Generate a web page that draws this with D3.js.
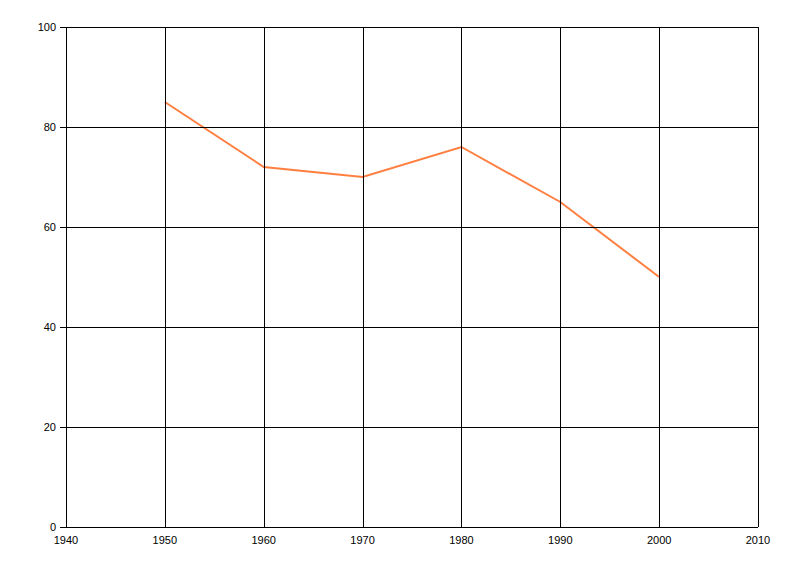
<!DOCTYPE html>
<html><head><meta charset="utf-8">
<script src="https://cdn.jsdelivr.net/npm/d3@7/dist/d3.min.js"></script>
<style>body{margin:0;background:#fff}text{font-family:"Liberation Sans",Arial,sans-serif}</style>
</head><body>
<svg id="c" width="800" height="576"></svg>
<script>
const years = [1950, 1960, 1970, 1980, 1990, 2000];
const values = [85, 72, 70, 76, 65, 50];
const xTicks = [1940, 1950, 1960, 1970, 1980, 1990, 2000, 2010];
const yTicks = [0, 20, 40, 60, 80, 100];

const svg = d3.select("#c");
const L = 66, R = 758, T = 27, B = 527;
const x = d3.scaleLinear().domain([1940, 2010]).range([L, R]);
const y = d3.scaleLinear().domain([0, 100]).range([B, T]);

const data = years.map((d, i) => ({ year: d, value: values[i] }));

svg.append("path").datum(data)
  .attr("fill", "none").attr("stroke", "#FF7F40").attr("stroke-width", 2)
  .attr("d", d3.line().x(d => x(d.year)).y(d => y(d.value)));

const g = svg.append("g").attr("shape-rendering", "crispEdges");
g.selectAll(".vx").data(xTicks).join("line")
  .attr("x1", d => Math.round(x(d)) + 0.5).attr("x2", d => Math.round(x(d)) + 0.5)
  .attr("y1", T).attr("y2", B).attr("stroke", "#000");
g.selectAll(".hy").data(yTicks).join("line")
  .attr("x1", L - 6).attr("x2", R)
  .attr("y1", d => Math.round(y(d)) + 0.5).attr("y2", d => Math.round(y(d)) + 0.5)
  .attr("stroke", "#000");

svg.selectAll(".xl").data(xTicks).join("text")
  .attr("x", d => x(d)).attr("y", B + 17)
  .attr("text-anchor", "middle").attr("font-size", 11).attr("fill", "#000")
  .text(d => d);
svg.selectAll(".yl").data(yTicks).join("text")
  .attr("x", L - 10).attr("y", d => y(d) + 4)
  .attr("text-anchor", "end").attr("font-size", 11).attr("fill", "#000")
  .text(d => d);
</script>
</body></html>
